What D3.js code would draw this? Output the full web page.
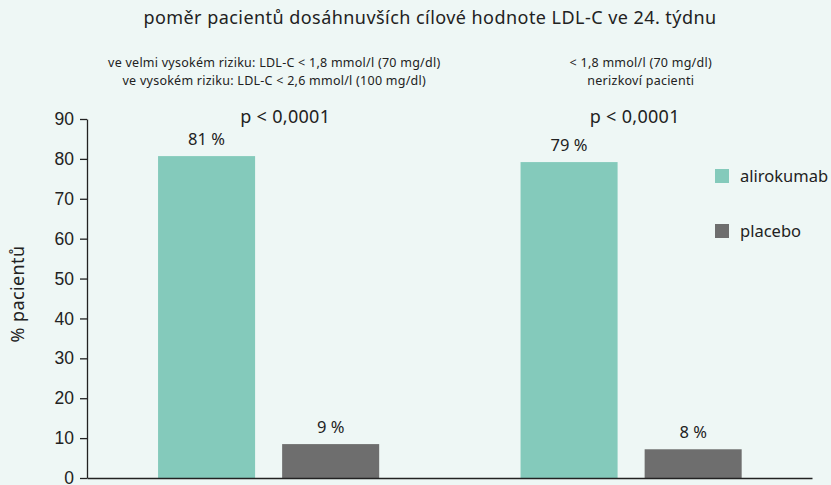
<!DOCTYPE html>
<html>
<head>
<meta charset="utf-8">
<script src="https://cdn.jsdelivr.net/npm/d3@7"></script>
<style>
  body { margin: 0; background: #eef7f5; }
  svg { display: block; font-family: "Noto Sans", sans-serif; }
</style>
</head>
<body>
<svg id="chart" width="831" height="485"></svg>
<script>
var groups = ['g1', 'g2'];
var groupNotes = [
  ['ve velmi vysokém riziku: LDL-C < 1,8 mmol/l (70 mg/dl)', 've vysokém riziku: LDL-C < 2,6 mmol/l (100 mg/dl)'],
  ['< 1,8  mmol/l (70 mg/dl)', 'nerizkoví pacienti']
];
var pValues = ['p < 0,0001', 'p < 0,0001'];
var seriesNames = ['alirokumab', 'placebo'];
var alirokumab = [80.7, 79.2];
var placebo = [8.5, 7.2];
var alirokumabLabels = ['81 %', '79 %'];
var placeboLabels = ['9 %', '8 %'];
var yTicks = [0, 10, 20, 30, 40, 50, 60, 70, 80, 90];
var colors = ['#84cabb', '#6e6e6e'];

var margin = { top: 119, right: 19, bottom: 7, left: 87 },
  width = 831 - margin.left - margin.right,
  height = 485 - margin.top - margin.bottom;

var svg = d3.select('#chart');
var g = svg.append('g').attr('transform', 'translate(' + margin.left + ',' + margin.top + ')');

var x0 = d3.scaleBand().domain(groups).range([0, width]);
var x1 = d3.scaleBand().domain(seriesNames)
  .range([x0.bandwidth() * 0.196, x0.bandwidth() * 0.806])
  .paddingInner(0.218);
var y = d3.scaleLinear().domain([0, 90]).range([height, 0]);

var rows = groups.map(function (k, i) {
  return [
    { group: k, s: 0, v: alirokumab[i], label: alirokumabLabels[i] },
    { group: k, s: 1, v: placebo[i], label: placeboLabels[i] }
  ];
});

// title
svg.append('text')
  .attr('x', 430).attr('y', 24)
  .attr('text-anchor', 'middle')
  .style('font-size', '18px').style('letter-spacing', '0.45px').style('fill', '#222')
  .text('poměr pacientů dosáhnuvších cílové hodnote LDL-C ve 24. týdnu');

// y axis
var yAxis = g.append('g').call(d3.axisLeft(y).tickValues(yTicks).tickSize(7).tickSizeOuter(0).tickPadding(6));
yAxis.selectAll('text').style('font-size', '17.5px').style('fill', '#222');
yAxis.selectAll('line, path').attr('stroke', '#222').attr('stroke-width', 1.3);

svg.append('text')
  .attr('transform', 'translate(24,' + 294 + ') rotate(-90)')
  .attr('text-anchor', 'middle')
  .style('font-size', '18px').style('letter-spacing', '0.4px').style('fill', '#222')
  .text('% pacientů');

// bars
var grp = g.selectAll('.grp').data(rows).enter().append('g')
  .attr('class', 'grp')
  .attr('transform', function (d) { return 'translate(' + x0(d[0].group) + ',0)'; });

grp.selectAll('rect').data(function (d) { return d; }).enter().append('rect')
  .attr('x', function (d) { return x1(seriesNames[d.s]); })
  .attr('y', function (d) { return y(d.v); })
  .attr('width', x1.bandwidth())
  .attr('height', function (d) { return height - y(d.v); })
  .attr('fill', function (d) { return colors[d.s]; });

grp.selectAll('.val').data(function (d) { return d; }).enter().append('text')
  .attr('class', 'val')
  .attr('x', function (d) { return x1(seriesNames[d.s]) + x1.bandwidth() / 2; })
  .attr('y', function (d) { return y(d.v) - 11; })
  .attr('text-anchor', 'middle')
  .style('font-size', '16.5px').style('fill', '#222')
  .text(function (d) { return d.label; });

// baseline
g.append('g').attr('transform', 'translate(0,' + height + ')')
  .call(d3.axisBottom(x0).tickSize(0).tickFormat(''))
  .select('path').attr('stroke', '#222').attr('stroke-width', 1.5);

// group notes and p-values
var noteDx = [6, 10], pDx = [17, 4];
groups.forEach(function (k, i) {
  var cx = margin.left + x0(k) + x0.bandwidth() / 2;
  groupNotes[i].forEach(function (line, j) {
    svg.append('text')
      .attr('x', cx + noteDx[i]).attr('y', 67 + j * 18)
      .attr('text-anchor', 'middle')
      .style('font-size', '12.5px').style('letter-spacing', '0.25px').style('fill', '#222')
      .text(line);
  });
  svg.append('text')
    .attr('x', cx + pDx[i]).attr('y', 123)
    .attr('text-anchor', 'middle')
    .style('font-size', '18px').style('letter-spacing', '0.3px').style('fill', '#222')
    .text(pValues[i]);
});

// legend
var leg = svg.selectAll('.leg').data(seriesNames).enter().append('g')
  .attr('class', 'leg')
  .attr('transform', function (d, i) { return 'translate(715,' + (169 + i * 55) + ')'; });
leg.append('rect').attr('width', 14).attr('height', 14)
  .attr('fill', function (d, i) { return colors[i]; });
leg.append('text').attr('x', 25).attr('y', 13)
  .style('font-size', '16.5px').style('fill', '#222')
  .text(function (d) { return d; });
</script>
</body>
</html>
